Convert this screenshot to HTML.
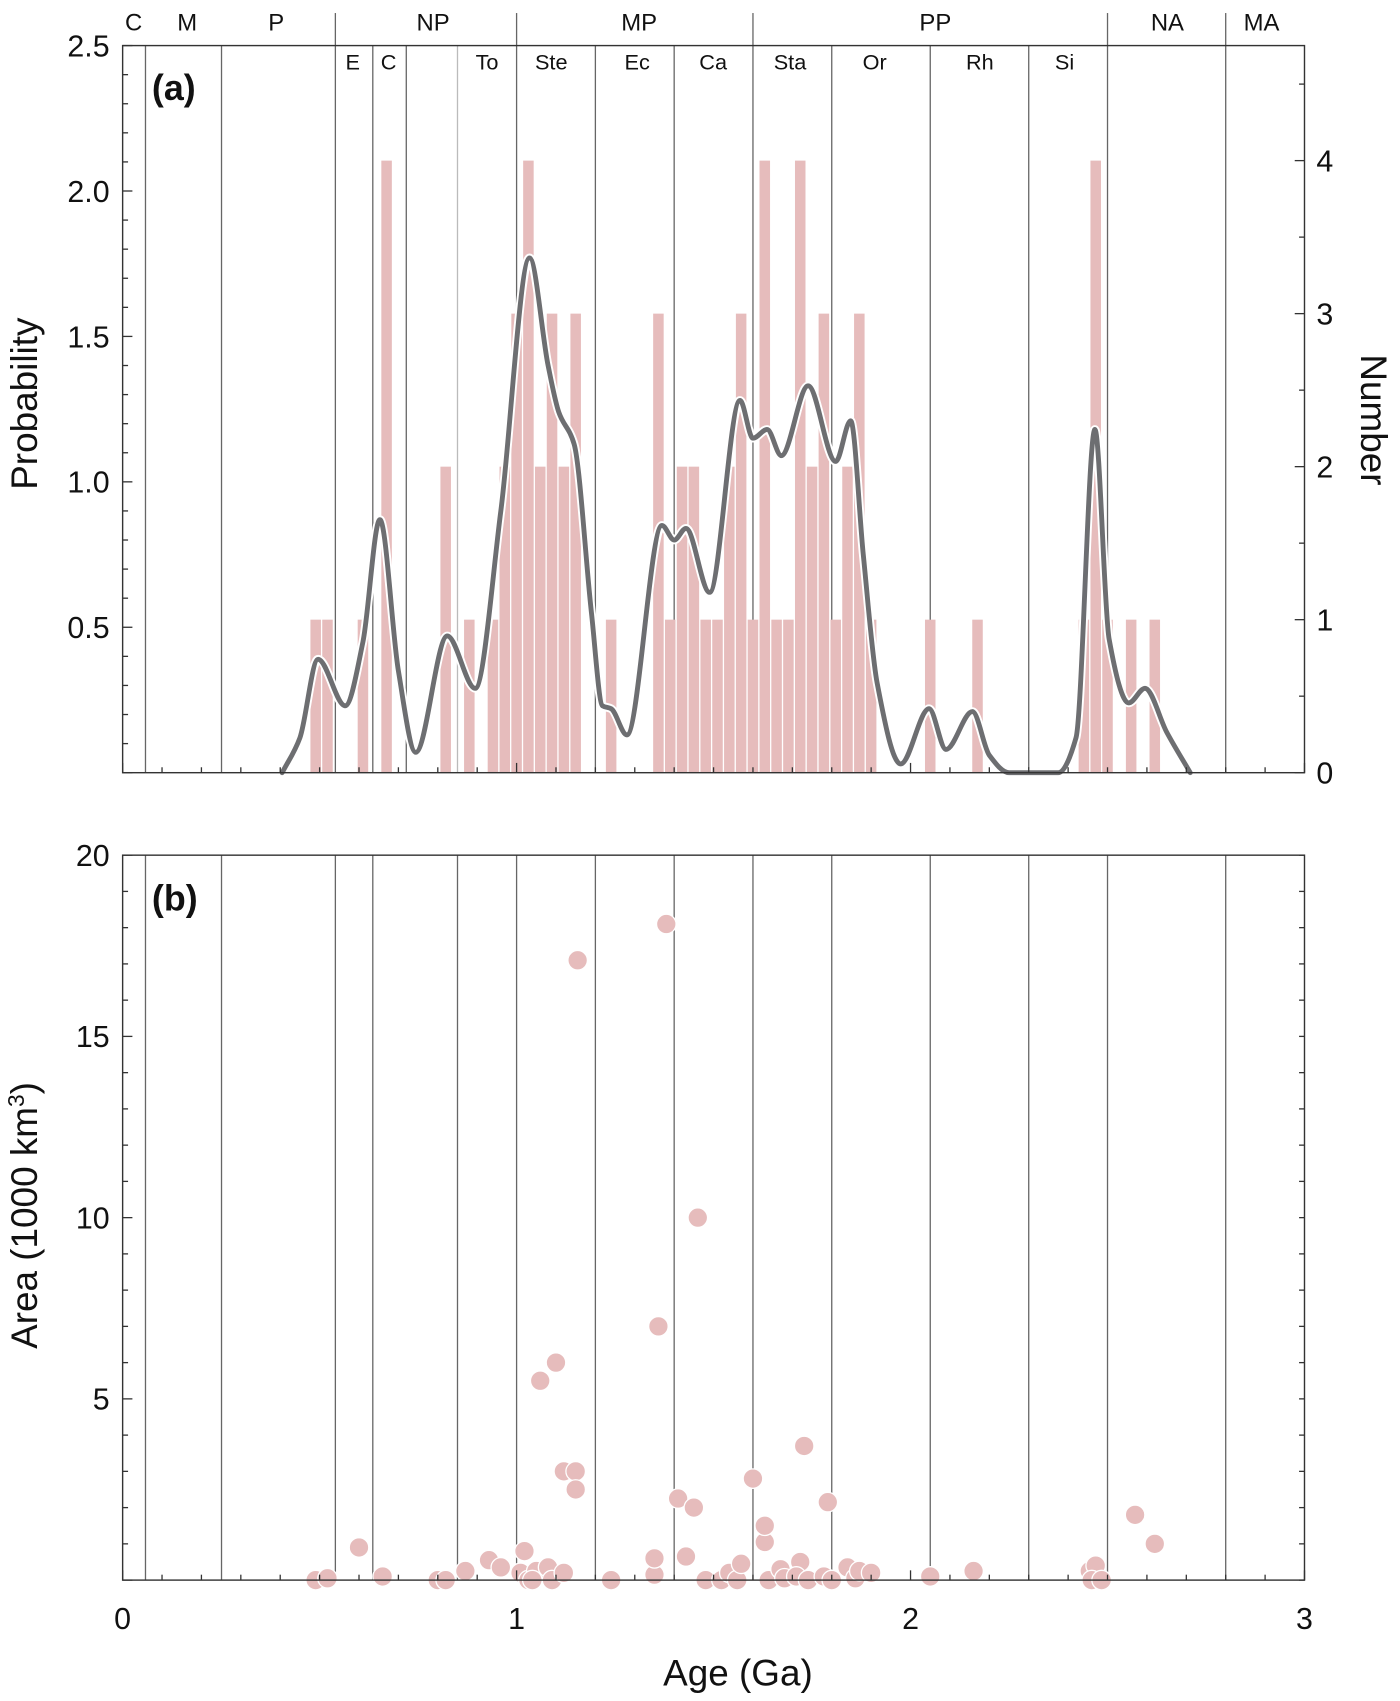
<!DOCTYPE html>
<html><head><meta charset="utf-8"><style>
html,body{margin:0;padding:0;background:#fff}
svg{display:block}
text{font-family:"Liberation Sans",sans-serif;fill:#111}
</style></head><body>
<svg id="chart" width="1400" height="1701" viewBox="0 0 1290 1567.4" preserveAspectRatio="none" xmlns="http://www.w3.org/2000/svg">
<g id="gA"></g>
<g id="gB"></g>
</svg>
<script>
// ---- data ----
const binAges = [0.49,0.52,0.61,0.67,0.82,0.88,0.94,0.97,1.00,1.03,1.06,1.09,1.12,1.15,1.24,1.36,1.39,1.42,1.45,1.48,1.51,1.54,1.57,1.60,1.63,1.66,1.69,1.72,1.75,1.78,1.81,1.84,1.87,1.90,2.05,2.17,2.44,2.47,2.50,2.56,2.62];
const binCounts = [1,1,1,4,2,1,1,2,3,4,2,3,2,3,1,3,1,2,2,1,1,2,3,1,4,1,1,4,2,3,1,2,3,1,1,1,1,4,1,1,1];
const kdeAges = [0.405,0.45,0.496,0.565,0.61,0.653,0.70,0.744,0.824,0.895,0.96,1.033,1.08,1.107,1.146,1.19,1.218,1.24,1.28,1.369,1.40,1.43,1.49,1.567,1.60,1.636,1.672,1.74,1.81,1.848,1.88,1.915,1.975,2.047,2.09,2.157,2.20,2.25,2.375,2.42,2.468,2.504,2.554,2.595,2.65,2.71];
const kdeProb = [0,0.12,0.39,0.23,0.45,0.87,0.35,0.07,0.47,0.29,0.9,1.77,1.4,1.24,1.13,0.55,0.23,0.22,0.13,0.85,0.80,0.84,0.62,1.28,1.15,1.18,1.09,1.33,1.07,1.21,0.75,0.31,0.03,0.22,0.08,0.21,0.06,0,0,0.12,1.18,0.46,0.24,0.29,0.14,0];
const ptAges = [0.49,0.52,0.60,0.66,0.80,0.82,0.87,0.93,0.96,1.01,1.02,1.03,1.05,1.04,1.08,1.06,1.10,1.09,1.12,1.12,1.15,1.15,1.155,1.24,1.35,1.35,1.36,1.38,1.41,1.43,1.45,1.46,1.48,1.52,1.54,1.56,1.57,1.60,1.63,1.63,1.64,1.67,1.68,1.72,1.71,1.73,1.74,1.78,1.79,1.80,1.84,1.86,1.87,1.90,2.05,2.16,2.455,2.47,2.46,2.485,2.57,2.62];
const ptArea = [0,0.05,0.9,0.1,0,0,0.25,0.55,0.35,0.2,0.8,0,0.25,0,0.35,5.5,6.0,0,0.2,3.0,3.0,2.5,17.1,0,0.15,0.6,7.0,18.1,2.25,0.65,2.0,10.0,0,0,0.2,0,0.45,2.8,1.05,1.5,0,0.3,0.05,0.5,0.1,3.7,0,0.1,2.15,0,0.35,0.05,0.25,0.2,0.1,0.25,0.25,0.4,0,0,1.8,1.0];
const boundsA = [0.058,0.251,0.54,0.635,0.72,0.85,1.0,1.2,1.4,1.6,1.8,2.05,2.3,2.5,2.8];
const boundsB = [0.058,0.251,0.54,0.635,0.85,1.0,1.2,1.4,1.6,1.8,2.05,2.3,2.5,2.8];
const eraLines = [0.54,1.0,1.6,2.5,2.8];
const eraNames = ["C","M","P","NP","MP","PP","NA","MA"];
const eraPos = [0.028,0.164,0.39,0.788,1.311,2.063,2.652,2.891];
const perNames = ["E","C","To","Ste","Ec","Ca","Sta","Or","Rh","Si"];
const perPos = [0.584,0.675,0.925,1.088,1.306,1.499,1.694,1.909,2.176,2.391];
const probTicks = [0.5,1.0,1.5,2.0,2.5];
const numTicks = [0,1,2,3,4];
const areaTicks = [5,10,15,20];
const ageTicks = [0,1,2,3];

// ---- scales ----
const NS="http://www.w3.org/2000/svg";
const X0=113,X1=1202;
const xs=a=>X0+(a/3)*(X1-X0);
const yP=p=>712-p*268;
const yN=n=>712-n*141;
const yB=v=>1456-v*33.4;
function mk(parent,tag,attrs){const e=document.createElementNS(NS,tag);for(const k in attrs)e.setAttribute(k,attrs[k]);parent.appendChild(e);return e;}
const gA=document.getElementById('gA'),gB=document.getElementById('gB');

// ---- panel a ----
boundsA.forEach((b,i)=>{const l=mk(gA,'line',{x1:xs(b),x2:xs(b),y1:42,y2:712,stroke:b===0.85?'#bbb':'#666','stroke-width':1.2});

});
eraLines.forEach(b=>{const l=mk(gA,'line',{x1:xs(b),x2:xs(b),y1:12,y2:42,stroke:'#666','stroke-width':1.2});

});
const bw=0.03*(X1-X0)/3;
binAges.forEach((a,i)=>{const r=mk(gA,'rect',{x:xs(a)-bw/2+0.6,y:yN(binCounts[i]),width:bw-1.2,height:712-yN(binCounts[i]),fill:'#e6bcbc'});

});
// monotone cubic KDE path
const px=kdeAges.map(xs), py=kdeProb.map(yP);
const n=px.length, dx=[], sl=[], m=[];
for(let i=0;i<n-1;i++){dx[i]=px[i+1]-px[i];sl[i]=(py[i+1]-py[i])/dx[i];}
m[0]=sl[0];m[n-1]=sl[n-2];
for(let i=1;i<n-1;i++){ if(sl[i-1]*sl[i]<=0) m[i]=0; else { const w1=2*dx[i]+dx[i-1], w2=dx[i]+2*dx[i-1]; m[i]=(w1+w2)/(w1/sl[i-1]+w2/sl[i]); } }
let d=`M${px[0]},${py[0]}`;
for(let i=0;i<n-1;i++){const h=dx[i]/3;d+=` C${px[i]+h},${py[i]+m[i]*h} ${px[i+1]-h},${py[i+1]-m[i+1]*h} ${px[i+1]},${py[i+1]}`;}
const halo=mk(gA,'path',{d:d,fill:'none',stroke:'#fff','stroke-width':8,'stroke-linejoin':'round'});


const kde=mk(gA,'path',{d:d,fill:'none',stroke:'#6d6e71','stroke-width':4.5,'stroke-linejoin':'round','stroke-linecap':'round'});


// frame
const fa=mk(gA,'rect',{x:X0,y:42,width:X1-X0,height:670,fill:'none',stroke:'#333','stroke-width':1.3});


for(let v=0;v<=2.5001;v+=0.1){const maj=Math.abs(v*2-Math.round(v*2))<1e-6;mk(gA,'line',{x1:X0,x2:X0+(maj?9:5),y1:yP(v),y2:yP(v),stroke:'#333','stroke-width':1.2});}
for(let v=0;v<=4.5;v+=0.5){const maj=Number.isInteger(v);mk(gA,'line',{x1:X1,x2:X1-(maj?9:5),y1:yN(v),y2:yN(v),stroke:'#333','stroke-width':1.2});}
for(let a=0;a<=3.0001;a+=0.1){const maj=Math.abs(a-Math.round(a))<1e-6;mk(gA,'line',{x1:xs(a),x2:xs(a),y1:712,y2:712-(maj?9:5),stroke:'#333','stroke-width':1.2});}
probTicks.forEach(v=>{const t=mk(gA,'text',{x:101,y:yP(v)+10,'text-anchor':'end','font-size':28});t.textContent=v.toFixed(1);

});
numTicks.forEach(v=>{const t=mk(gA,'text',{x:1213,y:yN(v)+10,'font-size':28});t.textContent=v;

});
eraNames.forEach((n,i)=>{const t=mk(gA,'text',{x:xs(eraPos[i]),y:28,'text-anchor':'middle','font-size':22});t.textContent=n;

});
perNames.forEach((n,i)=>{const t=mk(gA,'text',{x:xs(perPos[i]),y:64,'text-anchor':'middle','font-size':20});t.textContent=n;

});
let t;
t=mk(gA,'text',{x:140,y:92,'font-size':33,'font-weight':'bold'});t.textContent='(a)';


t=mk(gA,'text',{x:0,y:0,'font-size':34,'text-anchor':'middle',transform:'translate(34,372) rotate(-90)'});t.textContent='Probability';


t=mk(gA,'text',{x:0,y:0,'font-size':34,'text-anchor':'middle',transform:'translate(1254,387) rotate(90)'});t.textContent='Number';



// ---- panel b ----
boundsB.forEach(b=>{const l=mk(gB,'line',{x1:xs(b),x2:xs(b),y1:788,y2:1456,stroke:'#666','stroke-width':1.2});

});
ptAges.forEach((a,i)=>{const c=mk(gB,'circle',{cx:xs(a),cy:yB(ptArea[i]),r:9,fill:'#e6bcbc',stroke:'#fff','stroke-width':1.2});

});
const fb=mk(gB,'rect',{x:X0,y:788,width:X1-X0,height:668,fill:'none',stroke:'#333','stroke-width':1.3});


for(let v=0;v<=20;v++){const maj=v%5===0;mk(gB,'line',{x1:X0,x2:X0+(maj?9:5),y1:yB(v),y2:yB(v),stroke:'#333','stroke-width':1.2});mk(gB,'line',{x1:X1,x2:X1-5,y1:yB(v),y2:yB(v),stroke:'#333','stroke-width':1.2});}
for(let a=0;a<=3.0001;a+=0.1){const maj=Math.abs(a-Math.round(a))<1e-6;mk(gB,'line',{x1:xs(a),x2:xs(a),y1:1456,y2:1456-(maj?9:5),stroke:'#333','stroke-width':1.2});}
areaTicks.forEach(v=>{const t=mk(gB,'text',{x:101,y:yB(v)+10,'text-anchor':'end','font-size':28});t.textContent=v;

});
ageTicks.forEach(v=>{const t=mk(gB,'text',{x:xs(v),y:1501,'text-anchor':'middle','font-size':28});t.textContent=v;

});
t=mk(gB,'text',{x:140,y:839,'font-size':33,'font-weight':'bold'});t.textContent='(b)';


t=mk(gB,'text',{x:0,y:0,'font-size':34,'text-anchor':'middle',transform:'translate(34,1120) rotate(-90)'});t.innerHTML='Area (1000 km<tspan dy="-12" font-size="21">3</tspan><tspan dy="12">)</tspan>';


t=mk(gB,'text',{x:680,y:1553,'font-size':34,'text-anchor':'middle'});t.textContent='Age (Ga)';


</script>
</body></html>
